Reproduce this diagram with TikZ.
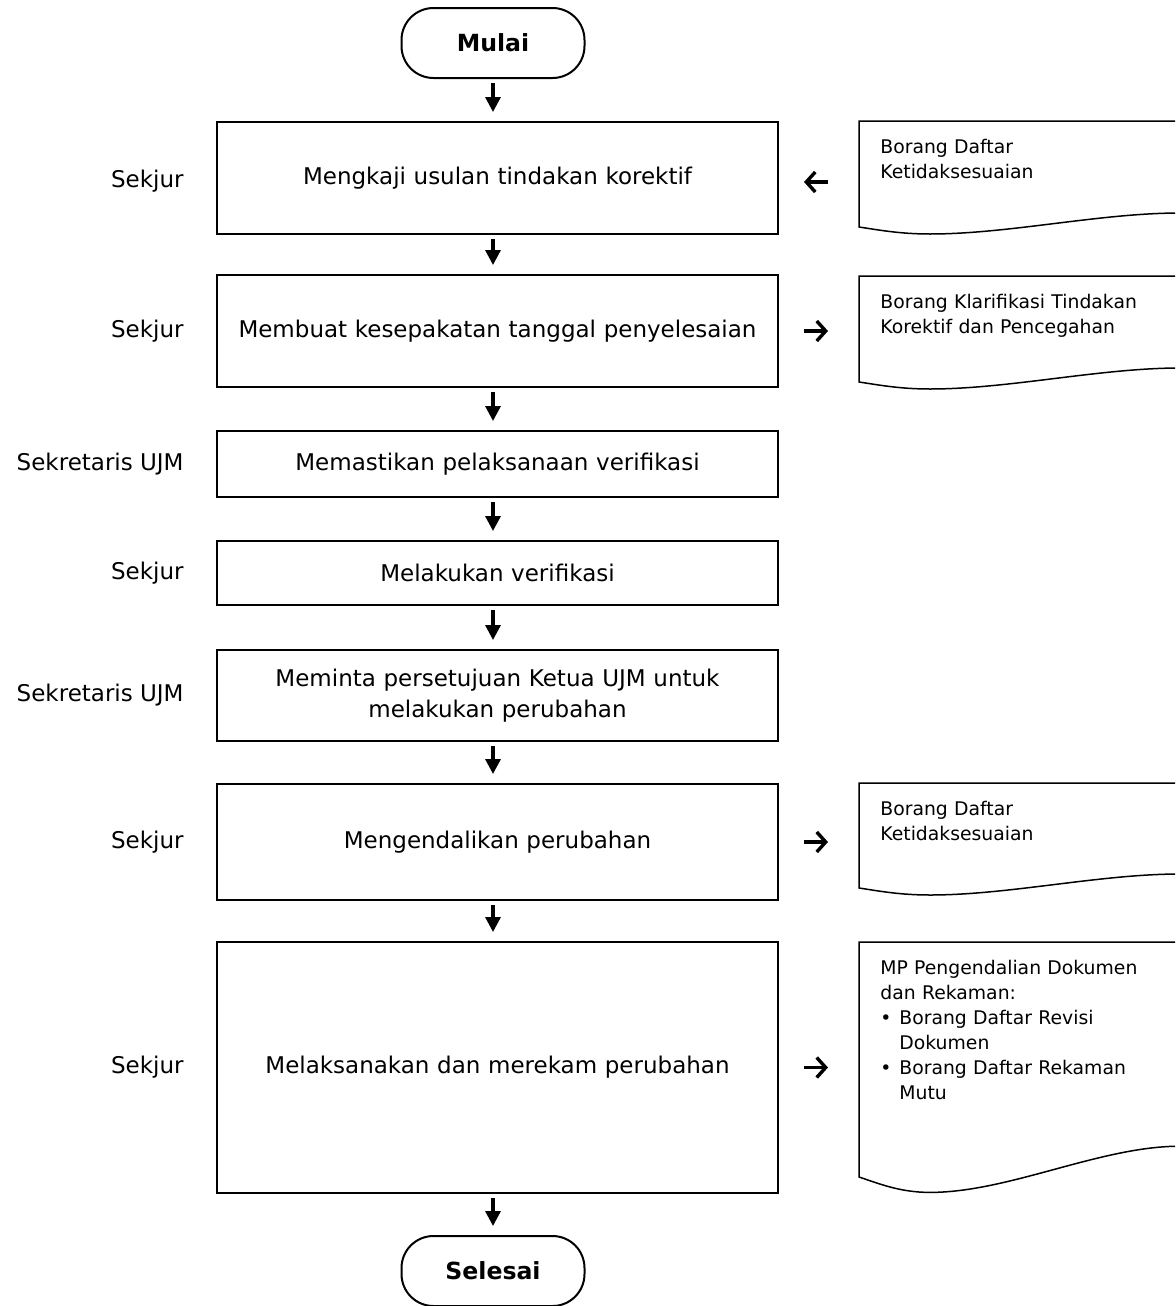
\documentclass[tikz,border=0pt]{standalone}
\usepackage{fontspec}
\setmainfont{DejaVu Sans}
\usetikzlibrary{arrows.meta,calc,positioning}

\tikzset{
  every node/.style={font=\fontsize{11.5}{15.5}\selectfont},
  terminal/.style={draw,line width=1pt,rounded corners=16pt,minimum width=91.5pt,
    minimum height=35pt,font=\fontsize{11.8}{15.5}\selectfont\bfseries},
  process/.style={draw,line width=1pt,minimum width=280.5pt,text width=262pt,align=center},
  role/.style={inner sep=0pt},
  borang/.style={anchor=north west,inner xsep=10.5pt,inner ysep=9pt,text width=139.5pt,
    align=left,font=\fontsize{9.4}{12.5}\selectfont},
  docline/.style={line width=0.75pt},
  flow/.style={-{Triangle[length=7.5pt,width=7.5pt]},line width=1.6pt,
    shorten <=2pt,shorten >=4.5pt},
  sidearrow/.style={-{Straight Barb[length=4.5pt,width=10pt]},line width=1.7pt}
}

\begin{document}
\begin{tikzpicture}[x=0.5pt,y=-0.5pt]
\path[use as bounding box,clip] (0,0) rectangle (1175,1306);

% alur utama
\node[terminal] (mulai) at (493,43) {Mulai};
\node[process,minimum height=56pt] (b1) at (497.5,178) {Mengkaji usulan tindakan korektif};
\node[process,minimum height=56pt] (b2) at (497.5,331) {Membuat kesepakatan tanggal penyelesaian};
\node[process,minimum height=33pt] (b3) at (497.5,464) {Memastikan pelaksanaan verifikasi};
\node[process,minimum height=32pt] (b4) at (497.5,573) {Melakukan verifikasi};
\node[process,minimum height=45.5pt] (b5) at (497.5,695.5) {Meminta persetujuan Ketua UJM untuk\\melakukan perubahan};
\node[process,minimum height=58pt] (b6) at (497.5,842) {Mengendalikan perubahan};
\node[process,minimum height=125.5pt] (b7) at (497.5,1067.5) {Melaksanakan dan merekam perubahan};
\node[terminal,minimum height=35pt] (selesai) at (493,1271) {Selesai};

% pelaksana
\node[role,left=16pt of b1,yshift=-1.5pt] (r1) {Sekjur};
\node[role,left=16pt of b2] (r2) {Sekjur};
\node[role,left=16pt of b3] (r3) {Sekretaris UJM};
\node[role,left=16pt of b4] (r4) {Sekjur};
\node[role,left=16pt of b5] (r5) {Sekretaris UJM};
\node[role,left=16pt of b6] (r6) {Sekjur};
\node[role,left=16pt of b7] (r7) {Sekjur};

% dokumen
\node[borang] (d1) at (859,121) {Borang Daftar\\Ketidaksesuaian};
\node[borang] (d2) at (859,276) {Borang Klarifikasi Tindakan\\Korektif dan Pencegahan};
\node[borang] (d3) at (859,783) {Borang Daftar\\Ketidaksesuaian};
\node[borang] (d4) at (859,942) {MP Pengendalian Dokumen\\dan Rekaman:\\
  \makebox[9.5pt][l]{\textbullet}Borang Daftar Revisi\\\hspace*{9.5pt}Dokumen\\
  \makebox[9.5pt][l]{\textbullet}Borang Daftar Rekaman\\\hspace*{9.5pt}Mutu};

\foreach \d/\h/\a in {d1/106/1,d2/106/1,d3/105/1,d4/235/2.2}{
  \draw[docline] (\d.north west) -- ($(\d.north west)+(321,0)$)
    -- ($(\d.north west)+(321,\h-14*\a)$)
    .. controls ($(\d.north west)+(241,\h-14*\a)$) and ($(\d.north west)+(150,\h+7*\a)$)
    .. ($(\d.north west)+(71,\h+7*\a)$)
    .. controls ($(\d.north west)+(41,\h+7*\a)$) and ($(\d.north west)+(20,\h+3*\a)$)
    .. ($(\d.north west)+(0,\h)$) -- cycle;
}

% panah
\foreach \u/\v in {mulai/b1,b1/b2,b2/b3,b3/b4,b4/b5,b5/b6,b6/b7,b7/selesai}
  \draw[flow] (\u.south -| mulai.south) -- (\v.north -| mulai.south);

\draw[sidearrow,shorten >=12.5pt,shorten <=15.5pt] ([yshift=-2pt]b1.east -| d1.west) -- ([yshift=-2pt]b1.east);
\draw[sidearrow,shorten <=12.5pt,shorten >=15.5pt] (b2.east) -- (b2.east -| d2.west);
\draw[sidearrow,shorten <=12.5pt,shorten >=15.5pt] (b6.east) -- (b6.east -| d3.west);
\draw[sidearrow,shorten <=12.5pt,shorten >=15.5pt] (b7.east) -- (b7.east -| d4.west);
\end{tikzpicture}
\end{document}
